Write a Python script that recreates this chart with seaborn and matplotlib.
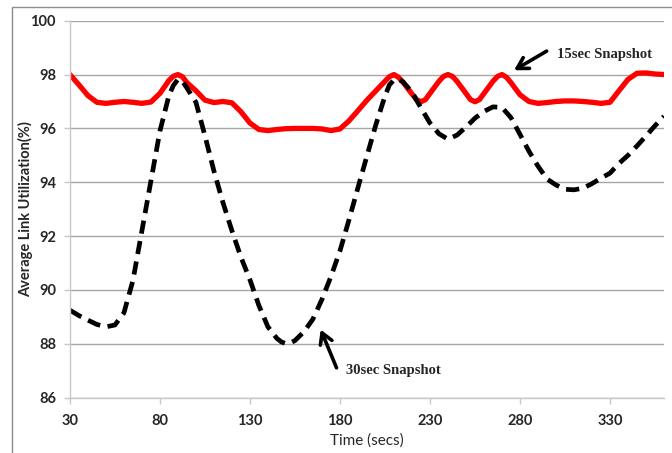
import numpy as np
import pandas as pd
import matplotlib
matplotlib.use("Agg")
import matplotlib.pyplot as plt
import matplotlib.patches as mpatches
import seaborn as sns

# ---- data ----
time_15 = [30, 35, 40, 45, 50, 55, 60, 65, 70, 75, 80, 85, 87.5, 90, 92.5, 95, 100, 105, 110,
           115, 120, 125, 130, 135, 140, 145, 150, 155, 160, 165, 170, 175, 180, 185, 190,
           195, 200, 205, 207.5, 210, 212.5, 215, 220, 222.5, 225, 227.5, 230, 235, 237.5,
           240, 242.5, 245, 250, 252.5, 255, 257.5, 260, 265, 267.5, 270, 272.5, 275, 280,
           285, 290, 295, 300, 305, 310, 315, 320, 325, 330, 335, 340, 345, 350, 355, 360]
util_15 = [98.0, 97.62, 97.22, 96.97, 96.93, 96.97, 97.0, 96.97, 96.93, 96.98, 97.3, 97.78,
           97.94, 98.0, 97.92, 97.7, 97.4, 97.05, 96.96, 97.0, 96.95, 96.62, 96.2, 95.96,
           95.92, 95.96, 95.99, 96.0, 96.0, 96.0, 95.98, 95.92, 95.98, 96.28, 96.66, 97.05,
           97.4, 97.75, 97.92, 98.0, 97.9, 97.72, 97.28, 97.07, 96.99, 97.07, 97.3, 97.75,
           97.93, 98.0, 97.93, 97.75, 97.3, 97.07, 96.99, 97.07, 97.3, 97.75, 97.93, 98.0,
           97.9, 97.7, 97.25, 97.0, 96.93, 96.96, 97.0, 97.02, 97.02, 97.0, 96.97, 96.93,
           96.97, 97.4, 97.82, 98.05, 98.06, 98.02, 98.0]

time_30 = [30, 35, 40, 45, 50, 55, 60, 65, 70, 75, 80, 85, 87.5, 90, 92.5, 95, 100, 105, 110,
           115, 120, 125, 130, 135, 140, 145, 147.5, 150, 152.5, 155, 160, 165, 170, 175, 180,
           185, 190, 195, 200, 205, 207.5, 210, 212.5, 215, 220, 225, 230, 235, 240, 245,
           250, 255, 260, 265, 270, 275, 280, 285, 290, 295, 300, 305, 310, 315, 320, 325,
           330, 335, 340, 345, 350, 355, 360]
util_30 = [89.25, 89.05, 88.88, 88.72, 88.63, 88.7, 89.15, 90.35, 92.2, 94.05, 95.9, 97.22,
           97.6, 97.82, 97.76, 97.5, 96.97, 95.73, 94.42, 93.25, 92.2, 91.22, 90.38, 89.42,
           88.63, 88.2, 88.07, 88.01, 88.04, 88.12, 88.45, 88.92, 89.65, 90.5, 91.45, 92.6,
           93.8, 94.98, 96.15, 97.2, 97.62, 97.8, 97.83, 97.73, 97.35, 96.76, 96.2, 95.8,
           95.6, 95.75, 96.05, 96.38, 96.63, 96.8, 96.78, 96.4, 95.78, 95.15, 94.6, 94.12,
           93.9, 93.74, 93.72, 93.78, 93.95, 94.15, 94.34, 94.7, 95.0, 95.35, 95.72, 96.1,
           96.45]

x_ticks = [30, 80, 130, 180, 230, 280, 330]
y_ticks = [86, 88, 90, 92, 94, 96, 98, 100]
series_names = ["15sec Snapshot", "30sec Snapshot"]

df = pd.DataFrame({
    "Time": time_15 + time_30,
    "Util": util_15 + util_30,
    "Series": [series_names[0]] * len(time_15) + [series_names[1]] * len(time_30),
})

sns.set_style("white")
sans = ["Liberation Sans Narrow", "Lato", "DejaVu Sans"]
plt.rcParams["font.family"] = sans

fig = plt.figure(figsize=(6.72, 4.53), dpi=100)
ax = fig.add_axes([69.9 / 672, 1 - 397.7 / 453, (664 - 69.9) / 672, (397.7 - 20.7) / 453])

# outer gray frame
fig.patches.append(mpatches.Rectangle((11.7 / 672, -0.05), 1.2, (1 - 6.7 / 453) + 0.05,
                                      transform=fig.transFigure, fill=False,
                                      edgecolor="#8c8c8c", linewidth=1.0, zorder=0))

sns.lineplot(data=df, x="Time", y="Util", hue="Series", style="Series",
             palette={series_names[0]: "#ff0000", series_names[1]: "#000000"},
             dashes={series_names[0]: "", series_names[1]: (2.8, 1.6)},
             linewidth=3.4, legend=False, ax=ax, sort=False)
for ln in ax.get_lines():
    ln.set_dash_capstyle("butt")
    ln.set_solid_joinstyle("round")
    ln.set_dash_joinstyle("round")
ax.get_lines()[0].set_linewidth(3.8)

ax.set_xlim(30, 360)
ax.set_ylim(86, 100)
ax.set_xticks(x_ticks)
ax.set_yticks(y_ticks)
ax.set_xticklabels([str(v) for v in x_ticks], fontsize=10.5, fontweight="bold")
ax.set_yticklabels([str(v) for v in y_ticks], fontsize=10.5, fontweight="bold")
ax.grid(axis="y", color="#a6a6a6", linewidth=1.0)
ax.grid(axis="x", visible=False)
ax.set_axisbelow(True)
for s in ["top", "right"]:
    ax.spines[s].set_visible(False)
ax.spines["left"].set_color("#c8c8c8")
ax.spines["bottom"].set_color("#c8c8c8")
ax.spines["left"].set_linewidth(1.0)
ax.spines["bottom"].set_linewidth(1.0)
ax.tick_params(axis="y", length=4, width=1, color="#c8c8c8", pad=6, left=True)
ax.tick_params(axis="x", length=4, width=1, color="#c8c8c8", pad=8, bottom=True)

ax.set_xlabel("Time (secs)", fontsize=11)
ax.set_ylabel("Average Link Utilization(%)", fontsize=10.5, fontweight="bold")
ax.xaxis.set_label_coords(0.5, -0.095)
ax.yaxis.set_label_coords(-0.062, 0.5)

serif = ["Liberation Serif", "DejaVu Serif"]
arrow_kw = dict(arrowstyle="->, head_length=0.55, head_width=0.32", color="black",
                lw=2.6, shrinkA=0, shrinkB=0, mutation_scale=14)
ax.annotate("", xy=(276.7, 98.16), xytext=(294.8, 98.87), arrowprops=arrow_kw)
ax.text(300.6, 98.75, series_names[0], fontsize=10.5, fontweight="bold", family=serif,
        va="center", ha="left")
ax.annotate("", xy=(169.3, 88.53), xytext=(178.1, 87.11), arrowprops=arrow_kw)
ax.text(183.4, 87.02, series_names[1], fontsize=10.5, fontweight="bold", family=serif,
        va="center", ha="left")

fig.savefig("out.png", dpi=100)
